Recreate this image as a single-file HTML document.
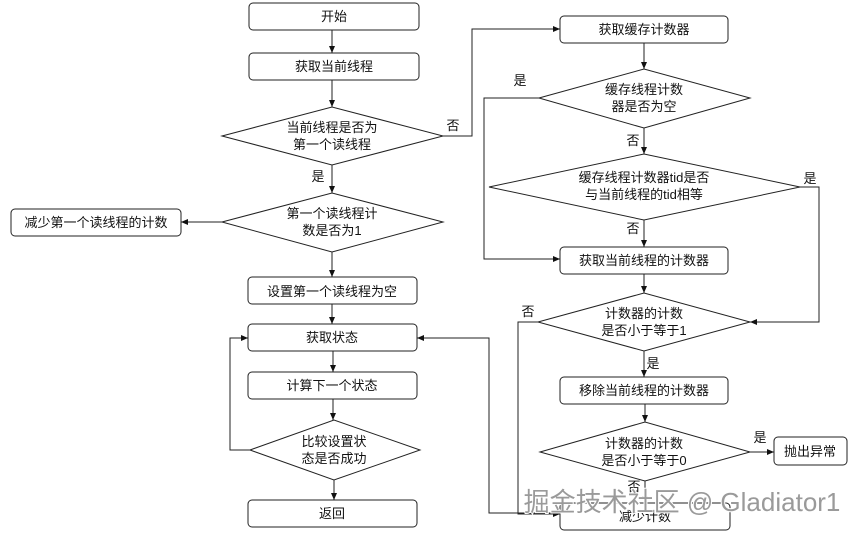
<!DOCTYPE html>
<html><head><meta charset="utf-8"><style>
body{margin:0;background:#fff}
svg text{font-family:"Liberation Sans","Noto Sans CJK SC",sans-serif;font-size:13px;fill:#111;text-anchor:middle}
</style></head><body>
<svg width="855" height="531" viewBox="0 0 855 531" xmlns="http://www.w3.org/2000/svg">
<defs><marker id="a" markerWidth="8" markerHeight="8" refX="7" refY="4" orient="auto" markerUnits="userSpaceOnUse"><path d="M0,1 L7,4 L0,7z" fill="#111"/></marker></defs>
<g fill="#fff" stroke="#222" stroke-width="1">
<rect x="249" y="3" width="170" height="27" rx="4"/>
<rect x="249" y="53" width="170" height="27" rx="4"/>
<polygon points="222,136 332,107 443,136 332,165"/>
<polygon points="222,222 332,193 443,222 332,252"/>
<rect x="11" y="209" width="170" height="27" rx="4"/>
<rect x="248" y="277" width="169" height="27" rx="4"/>
<rect x="248" y="324" width="169" height="27" rx="4"/>
<rect x="248" y="372" width="169" height="27" rx="4"/>
<polygon points="250,450 334,420 420,450 334,480"/>
<rect x="248" y="500" width="169" height="27" rx="4"/>
<rect x="560" y="16" width="168" height="27" rx="4"/>
<polygon points="539,98 644,69 750,98 644,128"/>
<polygon points="489,187 644,154 800,187 644,220"/>
<rect x="560" y="247" width="168" height="27" rx="4"/>
<polygon points="538,322 644,293 750,322 644,351"/>
<rect x="560" y="377" width="168" height="27" rx="4"/>
<polygon points="540,452 645,422 750,452 645,481"/>
<rect x="774" y="437" width="73" height="28" rx="4"/>
<rect x="560" y="503" width="170" height="27" rx="4"/>
</g>
<g fill="none" stroke="#222" stroke-width="1">
<line x1="332" y1="30" x2="332" y2="53" marker-end="url(#a)"/>
<line x1="332" y1="80" x2="332" y2="107" marker-end="url(#a)"/>
<line x1="332" y1="165" x2="332" y2="193" marker-end="url(#a)"/>
<line x1="222" y1="222" x2="181" y2="222" marker-end="url(#a)"/>
<line x1="332" y1="252" x2="332" y2="277" marker-end="url(#a)"/>
<line x1="332" y1="304" x2="332" y2="324" marker-end="url(#a)"/>
<line x1="333" y1="351" x2="333" y2="372" marker-end="url(#a)"/>
<line x1="333" y1="399" x2="333" y2="420" marker-end="url(#a)"/>
<line x1="334" y1="480" x2="334" y2="500" marker-end="url(#a)"/>
<polyline points="250,450 230,450 230,338 248,338" marker-end="url(#a)"/>
<polyline points="560,513 489,513 489,338 417,338" marker-end="url(#a)"/>
<polyline points="443,136 472,136 472,29 560,29" marker-end="url(#a)"/>
<line x1="644" y1="43" x2="644" y2="69" marker-end="url(#a)"/>
<polyline points="539,98 484,98 484,259 560,259" marker-end="url(#a)"/>
<line x1="644" y1="128" x2="644" y2="154" marker-end="url(#a)"/>
<line x1="644" y1="220" x2="644" y2="247" marker-end="url(#a)"/>
<polyline points="800,187 819,187 819,322 750,322" marker-end="url(#a)"/>
<line x1="644" y1="274" x2="644" y2="293" marker-end="url(#a)"/>
<polyline points="538,322 518,322 518,514 560,514" marker-end="url(#a)"/>
<line x1="644" y1="351" x2="644" y2="377" marker-end="url(#a)"/>
<line x1="645" y1="404" x2="645" y2="422" marker-end="url(#a)"/>
<line x1="750" y1="452" x2="774" y2="452" marker-end="url(#a)"/>
<line x1="645" y1="481" x2="645" y2="503" marker-end="url(#a)"/>
</g>
<text x="334" y="21">开始</text>
<text x="334" y="71">获取当前线程</text>
<text x="332" y="132">当前线程是否为</text>
<text x="332" y="149">第一个读线程</text>
<text x="318" y="181">是</text>
<text x="453" y="130">否</text>
<text x="332" y="218">第一个读线程计</text>
<text x="332" y="235">数是否为1</text>
<text x="96" y="227">减少第一个读线程的计数</text>
<text x="332" y="296">设置第一个读线程为空</text>
<text x="332" y="342">获取状态</text>
<text x="332" y="390">计算下一个状态</text>
<text x="334" y="446">比较设置状</text>
<text x="334" y="463">态是否成功</text>
<text x="332" y="518">返回</text>
<text x="644" y="34">获取缓存计数器</text>
<text x="644" y="94">缓存线程计数</text>
<text x="644" y="111">器是否为空</text>
<text x="520" y="85">是</text>
<text x="633" y="145">否</text>
<text x="644" y="182">缓存线程计数器tid是否</text>
<text x="644" y="199">与当前线程的tid相等</text>
<text x="810" y="183">是</text>
<text x="633" y="233">否</text>
<text x="644" y="265">获取当前线程的计数器</text>
<text x="644" y="318">计数器的计数</text>
<text x="644" y="335">是否小于等于1</text>
<text x="528" y="316">否</text>
<text x="653" y="368">是</text>
<text x="644" y="395">移除当前线程的计数器</text>
<text x="644" y="448">计数器的计数</text>
<text x="644" y="465">是否小于等于0</text>
<text x="760" y="442">是</text>
<text x="810" y="456">抛出异常</text>
<text x="634" y="491">否</text>
<text x="645" y="521">减少计数</text>
<text x="682" y="511" style="font-size:26px;fill:#9a9a9a;stroke:#fff;stroke-width:2;paint-order:stroke">掘金技术社区 @ Gladiator1</text>
</svg>
</body></html>
